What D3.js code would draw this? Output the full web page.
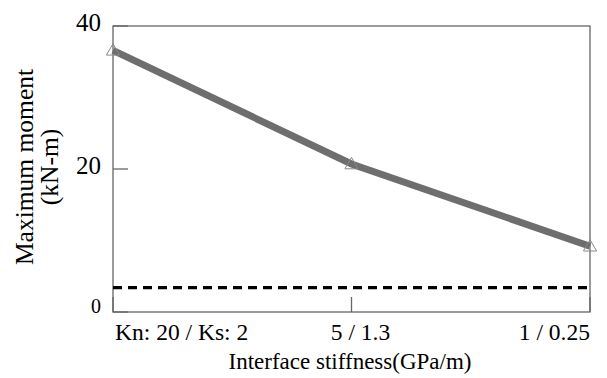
<!DOCTYPE html>
<html>
<head>
<meta charset="utf-8">
<script src="https://cdn.jsdelivr.net/npm/d3@7"></script>
<style>
  body { margin: 0; background: #fff; }
  text { font-family: "Liberation Serif", "Times New Roman", serif; fill: #000; }
</style>
</head>
<body>
<div id="chart"></div>
<script>
// data
var categories = ["Kn: 20 / Ks: 2", "5 / 1.3", "1 / 0.25"];
var moments = [36.6, 20.7, 9.2];
var referenceLevel = 3.4;
var yTicks = [0, 20, 40];

var width = 607, height = 378;
var margin = {top: 26, right: 17, bottom: 66, left: 113};

var svg = d3.select("#chart").append("svg")
  .attr("width", width)
  .attr("height", height);

var x = d3.scalePoint()
  .domain(categories)
  .range([margin.left, width - margin.right]);

var y = d3.scaleLinear()
  .domain([0, 40])
  .range([height - margin.bottom, margin.top]);

// frame
svg.append("rect")
  .attr("x", margin.left)
  .attr("y", margin.top)
  .attr("width", width - margin.right - margin.left)
  .attr("height", height - margin.bottom - margin.top)
  .attr("fill", "none")
  .attr("stroke", "#666")
  .attr("stroke-width", 1.3);

// y ticks (inside)
svg.append("g").selectAll("line")
  .data(yTicks)
  .enter().append("line")
  .attr("x1", margin.left)
  .attr("x2", margin.left + 15)
  .attr("y1", d => y(d))
  .attr("y2", d => y(d))
  .attr("stroke", "#666")
  .attr("stroke-width", 1.3);

svg.append("g").selectAll("text")
  .data(yTicks)
  .enter().append("text")
  .attr("x", margin.left - 12)
  .attr("y", d => d == 0 ? y(d) - 6 : y(d) - 4)
  .attr("dy", "0.35em")
  .attr("text-anchor", "end")
  .attr("font-size", d => d == 0 ? 20 : 25)
  .text(d => d);

// x ticks
svg.append("g").selectAll("line")
  .data(categories)
  .enter().append("line")
  .attr("x1", d => x(d))
  .attr("x2", d => x(d))
  .attr("y1", y(0))
  .attr("y2", y(0) - 15)
  .attr("stroke", "#666")
  .attr("stroke-width", 1.3);

svg.append("g").selectAll("text")
  .data(categories)
  .enter().append("text")
  .attr("x", (d, i) => i == 0 ? x(d) + 2 : (i == 2 ? x(d) : x(d) + 9))
  .attr("y", y(0) + 28)
  .attr("text-anchor", (d, i) => i == 0 ? "start" : (i == 2 ? "end" : "middle"))
  .attr("font-size", 23.5)
  .text(d => d);

// dashed reference line
svg.append("line")
  .attr("x1", margin.left)
  .attr("x2", width - margin.right)
  .attr("y1", y(referenceLevel))
  .attr("y2", y(referenceLevel))
  .attr("stroke", "#000")
  .attr("stroke-width", 3.2)
  .attr("stroke-dasharray", "9,6");

// main series
var line = d3.line()
  .x((d, i) => x(categories[i]))
  .y(d => y(d));

svg.append("path")
  .datum(moments)
  .attr("d", line)
  .attr("fill", "none")
  .attr("stroke", "#6e6e6e")
  .attr("stroke-width", 7);

var tri = d3.symbol().type(d3.symbolTriangle).size(75);
svg.append("g").selectAll("path")
  .data(moments)
  .enter().append("path")
  .attr("d", tri)
  .attr("transform", (d, i) => "translate(" + x(categories[i]) + "," + (y(d) + 1) + ")")
  .attr("fill", "none")
  .attr("stroke", "#888")
  .attr("stroke-width", 1);

// axis titles
svg.append("text")
  .attr("x", 350)
  .attr("y", 369)
  .attr("text-anchor", "middle")
  .attr("font-size", 23)
  .text("Interface stiffness(GPa/m)");

var yl = svg.append("text")
  .attr("transform", "translate(33,167) rotate(-90)")
  .attr("text-anchor", "middle")
  .attr("font-size", 25.5);
yl.append("tspan").attr("x", 0).attr("dy", 0).text("Maximum moment");
yl.append("tspan").attr("x", 0).attr("dy", 25).text("(kN-m)");
</script>
</body>
</html>
